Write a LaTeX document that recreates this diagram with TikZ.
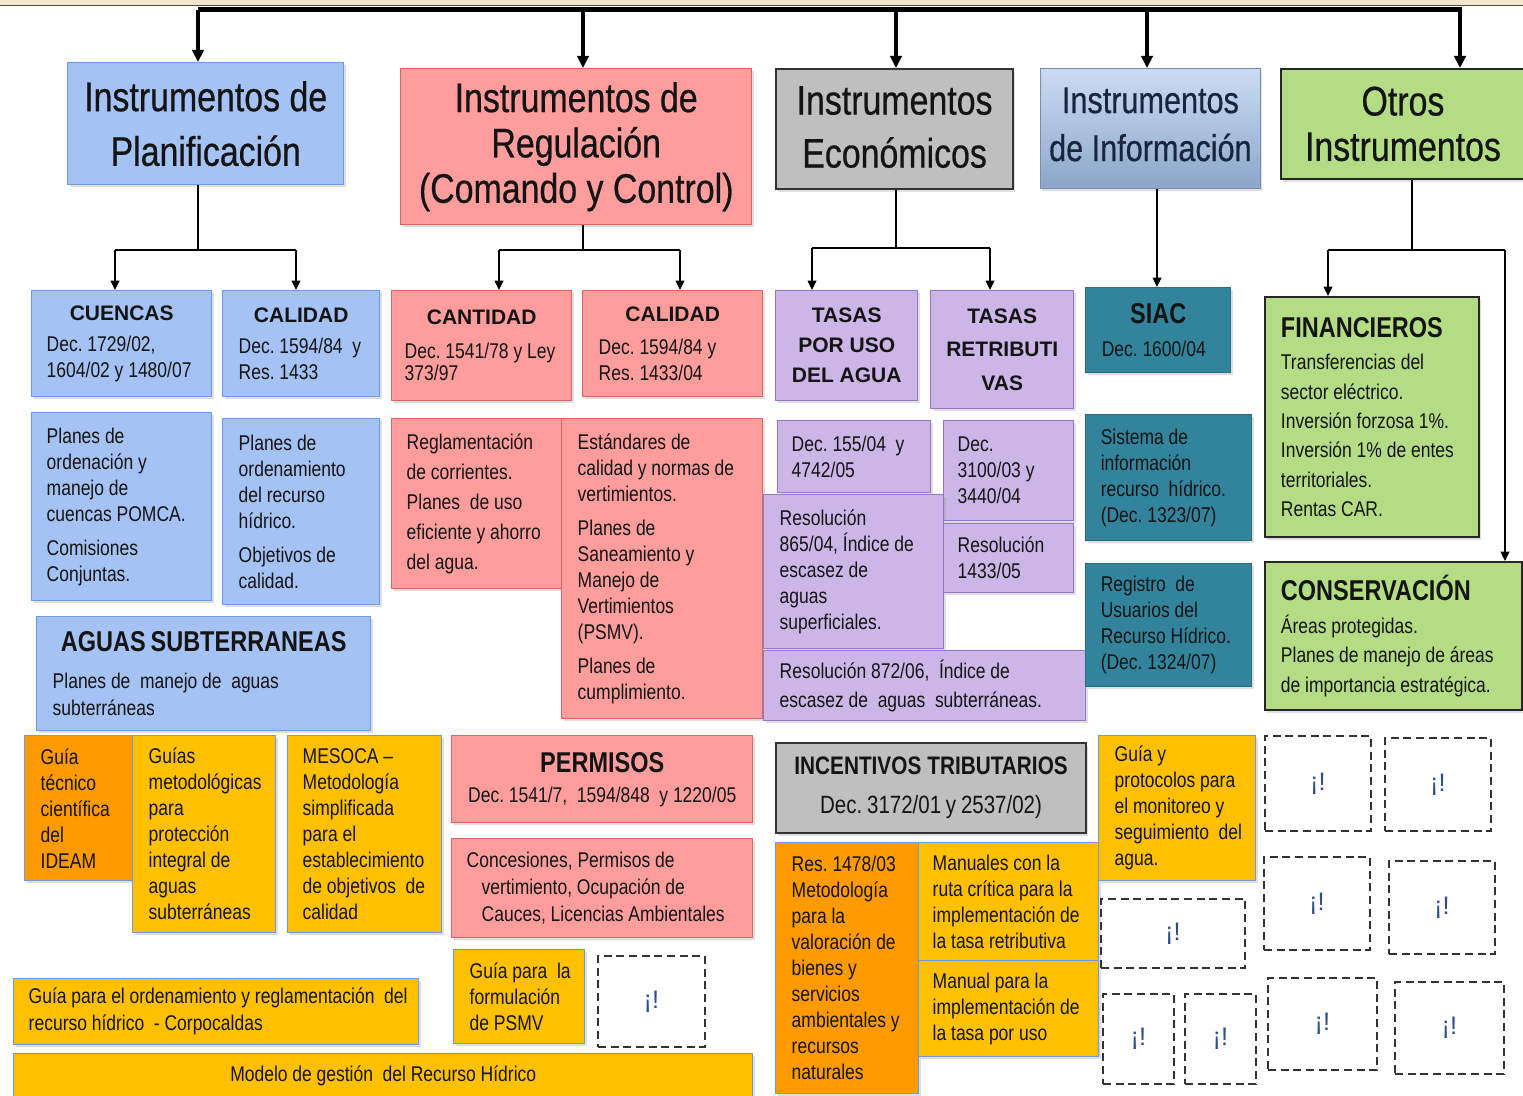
\documentclass[tikz,border=0pt]{standalone}
\usepackage{fontspec}
\setmainfont{Liberation Sans}[FakeStretch=0.82]
\newfontfamily\widef{Liberation Sans}
\newfontfamily\topf{Liberation Sans}[FakeStretch=0.82,FakeBold=0.5]
\usetikzlibrary{arrows.meta,shadows}
\setlength\parindent{0pt}
\frenchspacing
\definecolor{bluef}{HTML}{A4C2F4}
\definecolor{blued}{HTML}{6A9BE3}
\definecolor{redf}{HTML}{FF9D9D}
\definecolor{redd}{HTML}{DD6464}
\definecolor{greyf}{HTML}{BFBFBF}
\definecolor{purf}{HTML}{CCB6E7}
\definecolor{purd}{HTML}{9575C4}
\definecolor{tealf}{HTML}{31849B}
\definecolor{greenf}{HTML}{B4DC85}
\definecolor{orgf}{HTML}{FF9A00}
\definecolor{yelf}{HTML}{FFC000}
\definecolor{txt}{HTML}{141414}
\definecolor{navy}{HTML}{17253F}
\definecolor{excl}{HTML}{2F4C8C}
\definecolor{beige}{HTML}{F3E7CB}
\definecolor{infotop}{HTML}{CBDCF2}
\definecolor{infobot}{HTML}{8CA6C9}
\newcommand\narrowsp{\spaceskip=3.6pt plus 0.5pt minus 0.5pt\relax}
\newcommand\bodyf{\fontsize{16}{19.5}\selectfont}
\newcommand\bs[1]{\fontsize{16}{#1}\selectfont}
\newcommand\fTop[2]{\topf\fontsize{#1}{#2}\selectfont\spaceskip=0pt\relax}
\newcommand\fSub{\widef\bfseries\fontsize{15.75}{20}\selectfont}
\newcommand\fSubB[1]{\widef\bfseries\fontsize{15.75}{#1}\selectfont\spaceskip=0pt\relax}
\newcommand\fBig{\bfseries\fontsize{21.5}{24}\selectfont}
\newcommand\fInc{\bfseries\fontsize{19}{22}\selectfont\spaceskip=4.5pt\relax}
\newdimen\px \px=0.75pt
\newdimen\bxw \newdimen\bxh \newdimen\bxt
% left-aligned box: [inset]{style}{name}{x}{y}{w}{h}{text}
\newcommand\bx[8][15]{\bxw=#6\px \bxh=#7\px \bxt=\bxw \advance\bxt by -4\px
  \node[align=flush left, #2, anchor=north west, minimum width=\bxw, minimum height=\bxh,
    text width=\bxt, inner xsep=2\px, inner ysep=0pt] (#3) at (#4,#5)
    {\narrowsp\leftskip=\dimexpr#1\px-2\px\relax\relax #8\par};}
% centred box: {style}{name}{x}{y}{w}{h}{text}
\newcommand\cbx[7]{\bxw=#5\px \bxh=#6\px \bxt=\bxw \advance\bxt by -4\px
  \node[align=flush center, #1, anchor=north west, minimum width=\bxw, minimum height=\bxh,
    text width=\bxt, inner xsep=2\px, inner ysep=0pt] (#2) at (#3,#4) {\narrowsp #7\par};}
\tikzset{
  boxbase/.style={draw, line width=1.1pt, text=txt, font=\bodyf,
    drop shadow={shadow xshift=1.5pt, shadow yshift=-2pt, opacity=0.25}},
  bluebox/.style={boxbase, fill=bluef, draw=blued},
  redbox/.style={boxbase, fill=redf, draw=redd},
  greybox/.style={boxbase, fill=greyf, draw=black!80, line width=1.6pt},
  purbox/.style={boxbase, fill=purf, draw=purd},
  tealbox/.style={boxbase, fill=tealf, draw=tealf!85!black},
  greenbox/.style={boxbase, fill=greenf, draw=black!85, line width=1.4pt},
  orgbox/.style={boxbase, fill=orgf, draw=blued},
  yelbox/.style={boxbase, fill=yelf, draw=blued},
  infobox/.style={boxbase, top color=infotop, bottom color=infobot, draw=infobot!85!black,
    line width=0.6pt, text=navy},
  dbox/.style={draw=black!80, line width=1.4pt, dash pattern=on 6pt off 3.5pt,
    text=excl, font=\widef\fontsize{19}{20}\selectfont},
  topline/.style={line width=3.75pt, black},
  toparr/.style={line width=2.3pt, black, -{Triangle[length=9pt,width=8.5pt]}},
  lnk/.style={line width=1.1pt, black},
  arr/.style={line width=1.1pt, black, -{Triangle[length=7pt,width=6.5pt]}},
}
\begin{document}
\begin{tikzpicture}[x=0.75pt,y=-0.75pt]
\useasboundingbox (0,0) rectangle (1523,1095);
\fill[beige] (0,0) rectangle (1523,5);
\draw[black!70, line width=0.6pt] (0,5.5) -- (1523,5.5);

% ---------- top level ----------
\cbx{bluebox}{planif}{67}{62}{276}{122}{\fTop{31}{41}Instrumentos de\\Planificación}
\cbx{redbox}{regul}{400}{68}{351}{156}{\fTop{31}{34}Instrumentos de\\Regulación\\(Comando y Control)}
\cbx{greybox}{econ}{775}{68}{237}{120}{\fTop{31}{39.75}Instrumentos\\Económicos\par\vspace{3pt}}
\cbx{infobox}{info}{1040}{68}{220}{120}{\fTop{28}{36}Instrumentos\\de Información\par\vspace{6pt}}
\cbx{greenbox}{otros}{1280}{68}{244}{110}{\fTop{31}{34}Otros\\Instrumentos}

% ---------- planificación ----------
\bx[15]{bluebox}{cuencas}{31}{290}{180}{106}{{\centering\fSub CUENCAS\par}\vspace{4pt}Dec. 1729/02,\\1604/02 y 1480/07}
\bx[16]{bluebox}{calA}{222}{290}{157}{106}{{\centering\fSub CALIDAD\par}\vspace{4pt}Dec. 1594/84~ y\\Res. 1433}
\bx[15]{bluebox}{pomca}{31}{412}{180}{188}{Planes de\\ordenación y\\manejo de\\cuencas POMCA.\\[6pt]Comisiones\\Conjuntas.}
\bx[16]{bluebox}{porh}{222}{418}{157}{186}{Planes de\\ordenamiento\\del recurso\\hídrico.\\[6.5pt]Objetivos de\\calidad.}
\bx[16]{bluebox}{aguas}{36}{616}{334}{114}{{\centering\fBig AGUAS SUBTERRANEAS\par}\vspace{8pt}\bs{20.25}Planes de~ manejo de~ aguas\\subterráneas}

% ---------- regulación ----------
\bx[13]{redbox}{cantidad}{391}{290}{180}{110}{{\centering\fSub CANTIDAD\par}\vspace{6pt}Dec. 1541/78 y Ley\\[-3pt]373/97}
\bx[16]{redbox}{calB}{582}{290}{180}{106}{{\centering\fSub CALIDAD\par}\vspace{5pt}Dec. 1594/84 y\\Res. 1433/04}
\bx[15]{redbox}{reglam}{391}{418}{170}{170}{\bs{22.5}Reglamentación\\de corrientes.\\Planes~ de uso\\eficiente y ahorro\\del agua.}
\bx[16]{redbox}{estand}{561}{418}{201}{300}{Estándares de\\calidad y normas de\\vertimientos.\\[6pt]Planes de\\Saneamiento y\\Manejo de\\Vertimientos\\(PSMV).\\[6pt]Planes de\\cumplimiento.}

% ---------- económicos ----------
\cbx{purbox}{tasauso}{775}{290}{142}{110}{\fSubB{22.5}TASAS\\POR USO\\DEL AGUA}
\cbx{purbox}{tasaret}{930}{290}{143}{118}{\fSubB{25}TASAS\\RETRIBUTI\\VAS}
\bx[14]{purbox}{dec155}{777}{420}{153}{72}{Dec. 155/04~ y\\4742/05}
\bx[14]{purbox}{dec3100}{943}{420}{130}{100}{Dec.\\3100/03 y\\3440/04}
\bx[16]{purbox}{res865}{763}{494}{180}{154}{Resolución\\865/04, Índice de\\escasez de\\aguas\\superficiales.}
\bx[14]{purbox}{res1433}{943}{523}{130}{69}{Resolución\\1433/05}
\bx[16]{purbox}{res872}{763}{650}{322}{70}{\bs{21.75}Resolución 872/06,~ Índice de\\escasez de~ aguas~ subterráneas.}

% ---------- información ----------
\bx[16]{tealbox}{siac}{1085}{287}{145}{85}{{\centering\fBig SIAC\par}\vspace{5pt}Dec. 1600/04}
\bx[15]{tealbox}{sirh}{1085}{414}{166}{126}{Sistema de\\información\\recurso~ hídrico.\\(Dec. 1323/07)}
\bx[15]{tealbox}{rurh}{1085}{563}{166}{123}{Registro~ de\\Usuarios del\\Recurso Hídrico.\\(Dec. 1324/07)}

% ---------- otros ----------
\bx[16]{greenbox}{finan}{1264}{296}{214}{240}{{\fBig FINANCIEROS\par}\vspace{2.5pt}\bs{22}Transferencias del\\sector eléctrico.\\Inversión forzosa 1\%.\\Inversión 1\% de entes\\territoriales.\\Rentas CAR.}
\bx[16]{greenbox}{conserv}{1264}{561}{257}{148}{{\fBig CONSERVACIÓN\par}\vspace{2.5pt}\bs{22}Áreas protegidas.\\Planes de manejo de áreas\\de importancia estratégica.}

% ---------- bottom, left ----------
\bx[16]{orgbox}{ideam}{24}{735}{108}{145}{Guía\\técnico\\científica\\del\\IDEAM}
\bx[16]{yelbox}{guiasmet}{132}{735}{143}{197}{Guías\\metodológicas\\para\\protección\\integral de\\aguas\\subterráneas}
\bx[15]{yelbox}{mesoca}{287}{735}{154}{197}{MESOCA –\\Metodología\\simplificada\\para el\\establecimiento\\de objetivos~ de\\calidad}
\bx[15]{yelbox}{corpoc}{13}{978}{405}{66}{\bs{20.25}Guía para el ordenamiento y reglamentación~ del\\recurso hídrico~ - Corpocaldas}
\cbx{yelbox}{modelo}{13}{1053}{739}{44}{Modelo de gestión~ del Recurso Hídrico}

% ---------- bottom, regulación ----------
\cbx{redbox}{permisos}{451}{735}{301}{87}{{\fBig PERMISOS}\\[3pt]Dec. 1541/7,~ 1594/848~ y 1220/05}
\bx[15]{redbox}{conces}{451}{838}{301}{99}{\bs{20.25}Concesiones, Permisos de\\\hspace*{15\px}vertimiento, Ocupación de\\\hspace*{15\px}Cauces, Licencias Ambientales}
\bx[16]{yelbox}{guiapsmv}{453}{949}{131}{94}{Guía para~ la\\formulación\\de PSMV}
\cbx{dbox}{q1}{597}{955}{107}{91}{¡!}

% ---------- bottom, económicos ----------
\cbx{greybox}{incent}{775}{742}{310}{90}{{\fInc INCENTIVOS TRIBUTARIOS}\\[9.75pt]{\fontsize{18.75}{20}\selectfont Dec. 3172/01 y 2537/02)}}
\bx[16]{orgbox}{res1478}{775}{842}{143}{251}{Res. 1478/03\\Metodología\\para la\\valoración de\\bienes y\\servicios\\ambientales y\\recursos\\naturales}
\bx[14]{yelbox}{manret}{918}{842}{180}{118}{Manuales con la\\ruta crítica para la\\implementación de\\la tasa retributiva}
\bx[14]{yelbox}{manuso}{918}{960}{180}{96}{Manual para la\\implementación de\\la tasa por uso}

% ---------- bottom, información / otros ----------
\bx[16]{yelbox}{monit}{1098}{735}{157}{145}{Guía y\\protocolos para\\el monitoreo y\\seguimiento~ del\\agua.}
\cbx{dbox}{q2}{1264}{735}{106}{95}{¡!}
\cbx{dbox}{q3}{1384}{737}{106}{93}{¡!}
\cbx{dbox}{q4}{1100}{898}{144}{69}{¡!}
\cbx{dbox}{q5}{1263}{856}{106}{93}{¡!}
\cbx{dbox}{q6}{1388}{860}{106}{93}{¡!}
\cbx{dbox}{q7}{1102}{993}{71}{90}{¡!}
\cbx{dbox}{q8}{1184}{993}{71}{90}{¡!}
\cbx{dbox}{q9}{1267}{977}{109}{92}{¡!}
\cbx{dbox}{q10}{1394}{981}{109}{92}{¡!}

% ---------- connectors ----------
\coordinate (tl0) at (198,10);
\coordinate (tl1) at (1462,10);
\draw[topline] (tl0) -- (tl1);
\coordinate (a1) at (198,10);
\coordinate (a2) at (583,10);
\coordinate (a3) at (896,10);
\coordinate (a4) at (1147,10);
\coordinate (a5) at (1460,10);
\draw[toparr] (a1) -- (a1 |- planif.north);
\draw[toparr] (a2) -- (a2 |- regul.north);
\draw[toparr] (a3) -- (a3 |- econ.north);
\draw[toparr] (a4) -- (a4 |- info.north);
\draw[toparr] (a5) -- (a5 |- otros.north);

\coordinate (p0) at (198,250); \coordinate (p1) at (115,250); \coordinate (p2) at (296,250);
\draw[lnk] (p0 |- planif.south) -- (p0);
\draw[lnk] (p1) -- (p2);
\draw[arr] (p1) -- (p1 |- cuencas.north);
\draw[arr] (p2) -- (p2 |- calA.north);

\coordinate (r0) at (583,250); \coordinate (r1) at (499,250); \coordinate (r2) at (680,250);
\draw[lnk] (r0 |- regul.south) -- (r0);
\draw[lnk] (r1) -- (r2);
\draw[arr] (r1) -- (r1 |- cantidad.north);
\draw[arr] (r2) -- (r2 |- calB.north);

\coordinate (e0) at (896,248); \coordinate (e1) at (812,248); \coordinate (e2) at (990,248);
\draw[lnk] (e0 |- econ.south) -- (e0);
\draw[lnk] (e1) -- (e2);
\draw[arr] (e1) -- (e1 |- tasauso.north);
\draw[arr] (e2) -- (e2 |- tasaret.north);

\coordinate (i0) at (1157,250);
\draw[arr] (i0 |- info.south) -- (i0 |- siac.north);

\coordinate (o0) at (1412,250); \coordinate (o1) at (1328,250); \coordinate (o2) at (1505,250);
\draw[lnk] (o0 |- otros.south) -- (o0);
\draw[lnk] (o1) -- (o2);
\draw[arr] (o1) -- (o1 |- finan.north);
\draw[arr] (o2) -- (o2 |- conserv.north);
\end{tikzpicture}
\end{document}
